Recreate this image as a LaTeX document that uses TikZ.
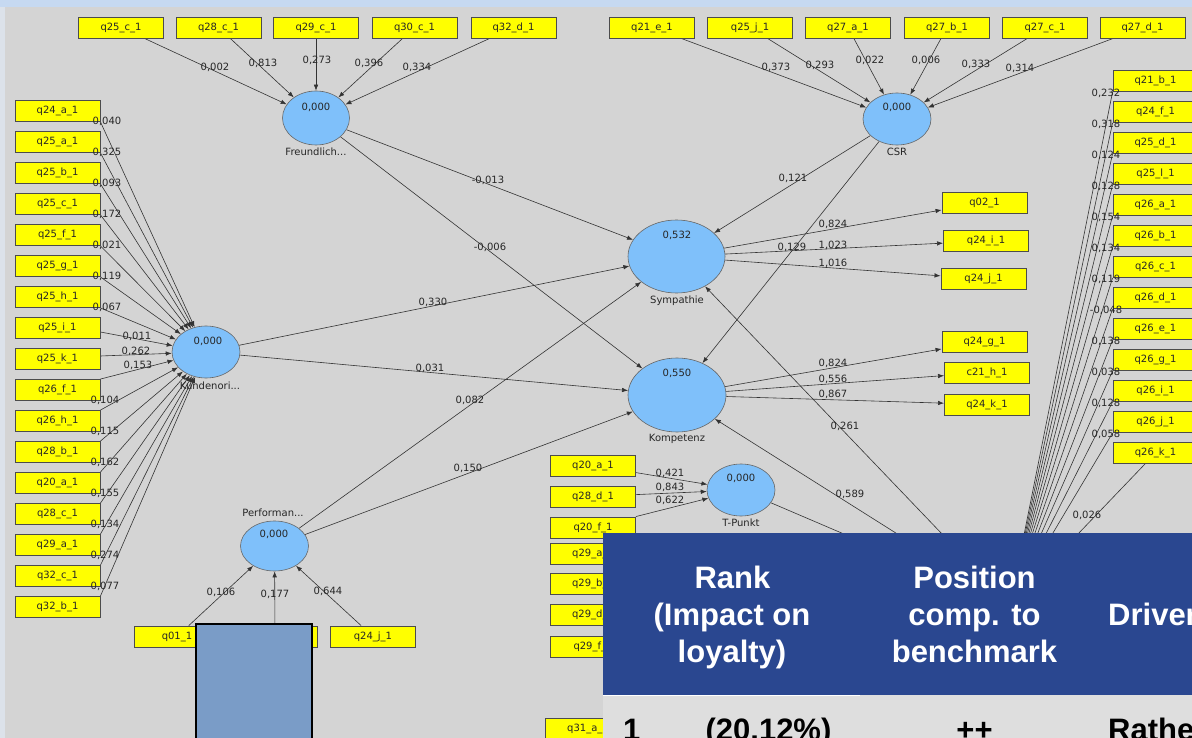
\documentclass[tikz,border=0pt]{standalone}
\usepackage{fontspec}
\setmainfont{Liberation Sans}
\newfontfamily\dejavu{DejaVu Sans}
\usetikzlibrary{shapes.geometric,arrows.meta,calc}

\definecolor{canvas}{HTML}{D4D4D4}
\definecolor{topband}{HTML}{C6D9F1}
\definecolor{sideband}{HTML}{DCE2EA}
\definecolor{lvfill}{HTML}{7FC0FA}
\definecolor{indfill}{HTML}{FFFF00}
\definecolor{hdrblue}{HTML}{2A4790}
\definecolor{rowgray}{HTML}{DEDEDE}
\definecolor{slateblue}{HTML}{7A9CC7}

\pgfdeclarelayer{bg}
\pgfdeclarelayer{edges}
\pgfdeclarelayer{top}
\pgfsetlayers{bg,edges,main,top}

\tikzset{
  ind/.style={rectangle, fill=indfill, draw=black!70, line width=0.9pt,
    minimum width=85pt, minimum height=21pt, inner sep=0pt,
    font=\dejavu\fontsize{10}{10}\selectfont, text=black!85},
  lv/.style={ellipse, fill=lvfill, draw=black!60, line width=0.6pt, inner sep=0pt},
  lnk/.style={draw=black!80, line width=0.6pt, -{Latex[length=6pt,width=4.5pt]}},
  wt/.style={font=\dejavu\fontsize{10}{10}\selectfont, inner sep=0pt, text=black!85},
  lvtxt/.style={font=\dejavu\fontsize{10}{10}\selectfont, inner sep=0pt, text=black!85},
  hdr/.style={font=\bfseries\fontsize{31}{31}\selectfont, text=white, anchor=base, inner sep=0pt},
  rowtxt/.style={font=\bfseries\fontsize{31}{31}\selectfont, text=black, anchor=base, inner sep=0pt},
}

\begin{document}
\begin{tikzpicture}[x=1pt,y=-1pt]
\useasboundingbox (0,0) rectangle (1192,738);
\clip (0,0) rectangle (1192,738);

\begin{pgfonlayer}{bg}
  \fill[canvas] (0,0) rectangle (1192,738);
  \fill[sideband] (0,0) rectangle (5,738);
  \fill[topband] (0,0) rectangle (1192,7);
\end{pgfonlayer}

% latent variables
\node[lv, minimum width=67pt, minimum height=54pt] (F)   at (316,118)   {};
\node[lv, minimum width=68pt, minimum height=52pt] (CSR) at (897,119)   {};
\node[lv, minimum width=68pt, minimum height=52pt] (KO)  at (206,352)   {};
\node[lv, minimum width=97pt, minimum height=73pt] (S)   at (676.5,256.5) {};
\node[lv, minimum width=98pt, minimum height=74pt] (KP)  at (677,395)   {};
\node[lv, minimum width=68pt, minimum height=52pt] (T)   at (741,490)   {};
\node[lv, minimum width=68pt, minimum height=50pt] (P)   at (274.5,546) {};
\coordinate (H) at (1010,605);

% values and names of the latent variables
\node[lvtxt] (Fv)  at (316,107) {0,000};
\node[lvtxt] (Fn)  at (316,152) {Freundlich...};
\node[lvtxt] (Cv)  at (897,107) {0,000};
\node[lvtxt] (Cn)  at (897,152) {CSR};
\node[lvtxt] (KOv) at (208,341) {0,000};
\node[lvtxt] (KOn) at (210,386) {Kundenori...};
\node[lvtxt] (Sv)  at (677,235) {0,532};
\node[lvtxt] (Sn)  at (677,301) {Sympathie};
\node[lvtxt] (KPv) at (677,373) {0,550};
\node[lvtxt] (KPn) at (677,439) {Kompetenz};
\node[lvtxt] (Tv)  at (741,478) {0,000};
\node[lvtxt] (Tn)  at (741,523) {T-Punkt};
\node[lvtxt] (Pv)  at (274,534) {0,000};
\node[lvtxt] (Pn)  at (273,513) {Performan...};

% indicators of Freundlichkeit
\foreach \n/\x/\t in {f1/121/q25\_c\_1, f2/218.5/q28\_c\_1, f3/316/q29\_c\_1,
                      f4/414.5/q30\_c\_1, f5/513.5/q32\_d\_1}
  \node[ind] (\n) at (\x,27.5) {\t};

% indicators of CSR
\foreach \n/\x/\t in {c1/652/q21\_e\_1, c2/750/q25\_j\_1, c3/848/q27\_a\_1,
                      c4/947/q27\_b\_1, c5/1045/q27\_c\_1, c6/1142.5/q27\_d\_1}
  \node[ind] (\n) at (\x,27.5) {\t};

% indicators of Kundenorientierung
\foreach \t [count=\i, evaluate=\i as \yy using 80+31*\i] in
  {q24\_a\_1, q25\_a\_1, q25\_b\_1, q25\_c\_1, q25\_f\_1, q25\_g\_1, q25\_h\_1,
   q25\_i\_1, q25\_k\_1, q26\_f\_1, q26\_h\_1, q28\_b\_1, q20\_a\_1, q28\_c\_1,
   q29\_a\_1, q32\_c\_1, q32\_b\_1}
  \node[ind] (L\i) at (57.5,\yy) {\t};

% indicators on the right
\foreach \t [count=\i, evaluate=\i as \yy using 50+31*\i] in
  {q21\_b\_1, q24\_f\_1, q25\_d\_1, q25\_l\_1, q26\_a\_1, q26\_b\_1, q26\_c\_1,
   q26\_d\_1, q26\_e\_1, q26\_g\_1, q26\_i\_1, q26\_j\_1, q26\_k\_1}
  \node[ind] (R\i) at (1155.5,\yy) {\t};

% reflective indicators of Sympathie and Kompetenz
\node[ind] (s1) at (984.5,202.5) {q02\_1};
\node[ind] (s2) at (986,241)     {q24\_i\_1};
\node[ind] (s3) at (983.5,279)   {q24\_j\_1};
\node[ind] (k1) at (984.5,341.5) {q24\_g\_1};
\node[ind] (k2) at (987,372.5)   {c21\_h\_1};
\node[ind] (k3) at (987,404.5)   {q24\_k\_1};

% indicators of T-Punkt and below
\node[ind] (t1) at (593,465.5) {q20\_a\_1};
\node[ind] (t2) at (593,496.5) {q28\_d\_1};
\node[ind] (t3) at (593,527.5) {q20\_f\_1};
\node[ind] (t4) at (593,553.5) {q29\_a\_1};
\node[ind] (t5) at (593,584)   {q29\_b\_1};
\node[ind] (t6) at (593,614.5) {q29\_d\_1};
\node[ind] (t7) at (593,646.5) {q29\_f\_1};
\node[ind] (t8) at (588,729)   {q31\_a\_1};

% indicators of Performance
\node[ind] (p1) at (177,636.5) {q01\_1};
\node[ind] (p2) at (275,636.5) {};
\node[ind] (p3) at (373,636.5) {q24\_j\_1};

\begin{pgfonlayer}{edges}
  % measurement paths
  \foreach \n in {f1,f2,f3,f4,f5} \draw[lnk] (\n) -- (F);
  \foreach \n in {c1,c2,c3,c4,c5,c6} \draw[lnk] (\n) -- (CSR);
  \foreach \i in {1,...,7} \draw[lnk] (L\i.south east) -- (KO);
  \draw[lnk] ($(L8.east)+(0,4)$) -- (KO);
  \draw[lnk] ($(L9.east)+(0,-3)$) -- (KO);
  \foreach \i in {10,...,17} \draw[lnk] (L\i.north east) -- (KO);
  \foreach \i in {1,...,12} \draw[lnk] (R\i.south west) -- (H);
  \draw[lnk] (R13) -- (H);
  \foreach \n in {s1,s2,s3} \draw[lnk] (S) -- (\n);
  \foreach \n in {k1,k2,k3} \draw[lnk] (KP) -- (\n);
  \draw[lnk] (t1) -- (T);
  \draw[lnk] (t2) -- (T);
  \draw[lnk] (t3.north east) -- (T);
  \foreach \n in {p1,p2,p3} \draw[lnk] (\n) -- (P);
  % structural paths
  \draw[lnk] (F) -- (S);
  \draw[lnk] (F) -- (KP);
  \draw[lnk] (KO) -- (S);
  \draw[lnk] (KO) -- (KP);
  \draw[lnk] (P) -- (S);
  \draw[lnk] (P) -- (KP);
  \draw[lnk] (CSR) -- (S);
  \draw[lnk] (CSR) -- (KP);
  \draw[lnk] (H) -- (S);
  \draw[lnk] (H) -- (KP);
  \draw[lnk] (T) -- (H);
\end{pgfonlayer}

% path coefficients and loadings
\node[wt] (wf1) at (215,67) {0,002};
\node[wt] (wf2) at (263,63) {0,813};
\node[wt] (wf3) at (317,60) {0,273};
\node[wt] (wf4) at (369,63) {0,396};
\node[wt] (wf5) at (417,67) {0,334};

\node[wt] (wc1) at (776,67) {0,373};
\node[wt] (wc2) at (820,65) {0,293};
\node[wt] (wc3) at (870,60) {0,022};
\node[wt] (wc4) at (926,60) {0,006};
\node[wt] (wc5) at (976,64) {0,333};
\node[wt] (wc6) at (1020,68) {0,314};

\foreach \w [count=\i, evaluate=\i as \yy using 90.5+31*\i] in
  {{0,040}, {0,325}, {0,093}, {0,172}, {0,021}, {0,119}, {0,067}}
  \node[wt] (wl\i) at (107,\yy) {\w};
\node[wt] (wl8)  at (137,336) {0,011};
\node[wt] (wl9)  at (136,351) {0,262};
\node[wt] (wl10) at (138,365) {0,153};
\foreach \w [count=\i, evaluate=\i as \yy using 369+31*\i, evaluate=\i as \k using int(10+\i)] in
  {{0,104}, {0,115}, {0,162}, {0,155}, {0,134}, {0,274}, {0,077}}
  \node[wt] (wl\k) at (105,\yy) {\w};

\foreach \w [count=\i, evaluate=\i as \yy using 62+31*\i] in
  {{0,232}, {0,318}, {0,124}, {0,128}, {0,154}, {0,134}, {0,119}, {-0,048},
   {0,138}, {0,038}, {0,128}, {0,058}}
  \node[wt] (wr\i) at (1106,\yy) {\w};
\node[wt] (wr13) at (1087,515) {0,026};

\node[wt] (ws1) at (833,224) {0,824};
\node[wt] (ws2) at (833,245) {1,023};
\node[wt] (ws3) at (833,263) {1,016};
\node[wt] (wk1) at (833,363) {0,824};
\node[wt] (wk2) at (833,379) {0,556};
\node[wt] (wk3) at (833,394) {0,867};

\node[wt] (wt1) at (670,473) {0,421};
\node[wt] (wt2) at (670,487) {0,843};
\node[wt] (wt3) at (670,500) {0,622};

\node[wt] (wp1) at (221,592) {0,106};
\node[wt] (wp2) at (275,594) {0,177};
\node[wt] (wp3) at (328,591) {0,644};

\node[wt] (wFS)  at (488,180) {-0,013};
\node[wt] (wFK)  at (490,247) {-0,006};
\node[wt] (wKS)  at (433,302) {0,330};
\node[wt] (wKK)  at (430,368) {0,031};
\node[wt] (wPS)  at (470,400) {0,082};
\node[wt] (wPK)  at (468,468) {0,150};
\node[wt] (wCS)  at (793,178) {0,121};
\node[wt] (wCK)  at (792,247) {0,129};
\node[wt] (wHS)  at (845,426) {0,261};
\node[wt] (wHK)  at (850,494) {0,589};

\begin{pgfonlayer}{top}
  % overlaid table
  \fill[hdrblue] (603,533) rectangle (1192,695);
  \fill[rowgray] (603,695) rectangle (1192,738);
  \draw[white, line width=1pt] (603,695.5) -- (860,695.5);
  \node[hdr] (h1a) at (732.5,588) {Rank};
  \node[hdr] (h1b) at (732,625) {(Impact on};
  \node[hdr] (h1c) at (732,662) {loyalty)};
  \node[hdr] (h2a) at (974.5,588) {Position};
  \node[hdr] (h2b) at (974.5,625) {comp. to};
  \node[hdr] (h2c) at (974.5,662) {benchmark};
  \node[hdr, anchor=base west] (h3) at (1108,625) {Driver};
  \node[rowtxt, anchor=base west] (r1) at (623,740) {1};
  \node[rowtxt] (r2) at (768.5,740) {(20.12\%)};
  \node[rowtxt] (r3) at (974.5,740) {++};
  \node[rowtxt, anchor=base west] (r4) at (1108,740) {Rather};
  % overlaid slate-blue block
  \draw[fill=slateblue, draw=black, line width=1.5pt] (196,624) rectangle (312,745);
\end{pgfonlayer}
\end{tikzpicture}
\end{document}
